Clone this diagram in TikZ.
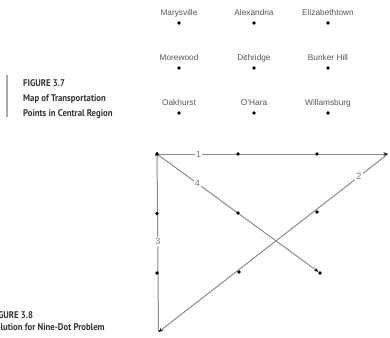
\documentclass[tikz,border=0pt]{standalone}
\usepackage{fontspec}
\setmainfont{Liberation Sans}
\newfontfamily\capfont[FakeStretch=0.9]{PT Sans}
\usetikzlibrary{arrows.meta}
\definecolor{labgray}{HTML}{555555}
\definecolor{linegray}{HTML}{8C8C8C}
\definecolor{numgray}{HTML}{777777}
\definecolor{capgray}{HTML}{333333}
\definecolor{bargray}{HTML}{AAAAAA}
\pgfdeclarelayer{bg}
\pgfsetlayers{bg,main}
\begin{document}
\begin{tikzpicture}[x=1pt,y=-1pt,
  dot/.style={circle,fill=black,inner sep=0pt,minimum size=3.6pt},
  town/.style={font=\fontsize{8.3}{9}\selectfont,text=labgray,inner sep=0pt},
  captext/.style={font=\capfont\bfseries\fontsize{9.7}{12}\selectfont,text=capgray,anchor=base west,inner sep=0pt},
  seg/.style={draw=linegray,line width=1pt},
  arr/.style={seg,-{Stealth[length=4.5pt,width=3.6pt,black]}},
  num/.style={font=\fontsize{9}{10}\selectfont,text=numgray,fill=white,inner sep=1.3pt}
]
\useasboundingbox (0,0) rectangle (390,337);

% ---- Figure 3.7 ----
\node[dot] (mary) at (179,23) {};
\node[dot] (alex) at (254,23) {};
\node[dot] (eliz) at (328,23) {};
\node[dot] (more) at (179,68) {};
\node[dot] (dith) at (254,68) {};
\node[dot] (bunk) at (328,68) {};
\node[dot] (oakh) at (179,113) {};
\node[dot] (ohar) at (254,113) {};
\node[dot] (will) at (328,113) {};
\node[town] (lmary) at (179,13) {Marysville};
\node[town] (lalex) at (254,13) {Alexandria};
\node[town] (leliz) at (328,13) {Elizabethtown};
\node[town] (lmore) at (179,58) {Morewood};
\node[town] (ldith) at (254,58) {Dithridge};
\node[town] (lbunk) at (328,58) {Bunker Hill};
\node[town] (loakh) at (179,103) {Oakhurst};
\node[town] (lohar) at (254,103) {O'Hara};
\node[town] (lwill) at (328,103) {Willamsburg};

\draw[draw=bargray,line width=1.4pt] (7,75) -- (7,117);
\node[captext] (c7a) at (23,86.5) {FIGURE 3.7};
\node[captext] (c7b) at (23,101.5) {Map of Transportation};
\node[captext] (c7c) at (23,116.5) {Points in Central Region};

% ---- Figure 3.8 ----
\node[dot] (a1) at (157,154) {};
\node[dot] (a2) at (238,154) {};
\node[dot] (a3) at (317,154) {};
\node[dot] (b1) at (157,213.5) {};
\node[dot] (b2) at (238,213) {};
\node[dot] (b3) at (317,212) {};
\node[dot] (c1) at (157,273) {};
\node[dot] (c2) at (239,272) {};
\node[dot] (c3) at (320,273) {};
\coordinate (r) at (388,154);
\coordinate (bl) at (158.5,332);

\begin{pgfonlayer}{bg}
\draw[arr] (a1.center) -- node[num,pos=0.18] (n1) {1} (r);
\draw[arr] (r) -- node[num,pos=0.127] (n2) {2} (bl);
\draw[arr] (bl) -- node[num,pos=0.5] (n3) {3} ([yshift=2.5pt]a1.center);
\draw[arr] (a1.center) -- node[num,pos=0.25] (n4) {4} (c3);
\end{pgfonlayer}

\node[captext] (c8a) at (-9,318.5) {FIGURE 3.8};
\node[captext] (c8b) at (-9,330.5) {Solution for Nine-Dot Problem};
\end{tikzpicture}
\end{document}
